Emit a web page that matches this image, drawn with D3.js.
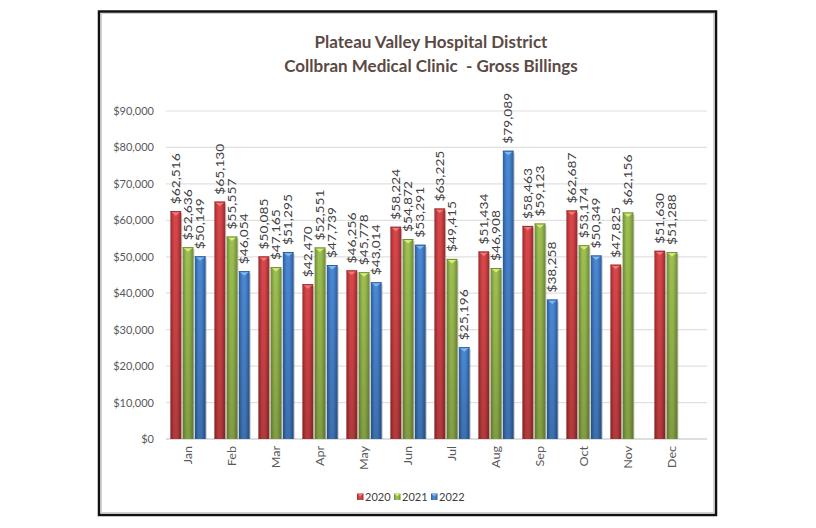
<!DOCTYPE html>
<html><head><meta charset="utf-8">
<script src="https://cdn.jsdelivr.net/npm/d3@7"></script>
<style>body{margin:0;background:#fff}svg{display:block}</style>
</head><body>
<script>
const months = ["Jan","Feb","Mar","Apr","May","Jun","Jul","Aug","Sep","Oct","Nov","Dec"];
const seriesNames = ["2020","2021","2022"];
const v2020 = [62516,65130,50085,42470,46256,58224,63225,51434,58463,62687,47825,51630];
const v2021 = [52636,55557,47165,52551,45778,54872,49415,46908,59123,53174,62156,51288];
const v2022 = [50149,46054,51295,47739,43014,53291,25196,79089,38258,50349,null,null];
const yTicks = [0,10000,20000,30000,40000,50000,60000,70000,80000,90000];
const titleLines = ["Plateau Valley Hospital District","Collbran Medical Clinic  - Gross Billings"];

const W=816,H=528;
const FONT="Lato, 'Open Sans', sans-serif";
const svg=d3.select("body").append("svg").attr("width",W).attr("height",H);
const defs=svg.append("defs");
const pal=[
 {edge:"#9b2a2c",mid:"#d9464a",cap:"#f07a7a"},
 {edge:"#6f8c33",mid:"#9dbf52",cap:"#d4ee7a"},
 {edge:"#2c5c9c",mid:"#4a88d4",cap:"#7fb8f0"}
];
pal.forEach((p,i)=>{
  const g=defs.append("linearGradient").attr("id","g"+i).attr("x1","0").attr("x2","1").attr("y1","0").attr("y2","0");
  g.append("stop").attr("offset","0").attr("stop-color",p.edge);
  g.append("stop").attr("offset","0.35").attr("stop-color",p.mid);
  g.append("stop").attr("offset","0.6").attr("stop-color",p.mid);
  g.append("stop").attr("offset","1").attr("stop-color",p.edge);
  const s=defs.append("linearGradient").attr("id","s"+i).attr("x1","0").attr("x2","0").attr("y1","0").attr("y2","1");
  s.append("stop").attr("offset","0").attr("stop-color","#000").attr("stop-opacity",0);
  s.append("stop").attr("offset","1").attr("stop-color","#000").attr("stop-opacity",0.18);
});

// frame
svg.append("rect").attr("x",99).attr("y",11.5).attr("width",617).attr("height",503.5)
  .attr("fill","#fff").attr("stroke","#111").attr("stroke-width",2.5);
svg.append("rect").attr("x",101.5).attr("y",13.5).attr("width",612).attr("height",499)
  .attr("fill","none").attr("stroke","#d0d0d0").attr("stroke-width",1);

const y=d3.scaleLinear().domain([0,90000]).range([439,111]);
const x=d3.scaleBand().domain(months).range([166,694]).paddingInner(0.2).paddingOuter(0.1);
const xs=d3.scaleBand().domain(seriesNames).range([0,x.bandwidth()]).paddingInner(0.12);

// gridlines
svg.append("g").selectAll("line").data(yTicks).join("line")
  .attr("x1",166).attr("x2",707).attr("y1",d=>y(d)).attr("y2",d=>y(d))
  .attr("stroke",d=>d===0?"#bdbdbd":"#e0e0e0").attr("stroke-width",1.2);

// y axis
const ya=svg.append("g").attr("transform","translate(160,0)")
  .call(d3.axisLeft(y).tickValues(yTicks).tickSize(0).tickPadding(6).tickFormat(d=>"$"+d3.format(",")(d)));
ya.select(".domain").remove();
ya.selectAll("text").attr("font-family",FONT).attr("font-size",11).attr("fill","#595959");

// x axis labels
const xa=svg.append("g").attr("transform","translate(0,439)")
  .call(d3.axisBottom(x).tickSize(0).tickPadding(0));
xa.select(".domain").remove();
xa.selectAll("text").attr("font-family",FONT).attr("font-size",11).attr("fill","#595959")
  .attr("transform","rotate(-90) scale(1.15,1)").attr("text-anchor","end").attr("dy","0.35em").attr("x",-6).attr("y",0);

const series=[v2020,v2021,v2022];
const bars=[];
series.forEach((vals,si)=>vals.forEach((v,mi)=>{ if(v!=null) bars.push({si,mi,v}); }));
const bx=d=>x(months[d.mi])+xs(seriesNames[d.si]);
const bw=xs.bandwidth();
const gb=svg.append("g");
gb.selectAll("rect.shadow").data(bars).join("rect")
  .attr("x",d=>bx(d)+bw-0.5).attr("y",d=>y(d.v)+2).attr("width",1.5).attr("height",d=>439-y(d.v)-2)
  .attr("fill","#9a9a9a").attr("opacity",0.6);
gb.selectAll("rect.bar").data(bars).join("rect")
  .attr("x",bx).attr("y",d=>y(d.v)).attr("width",bw).attr("height",d=>439-y(d.v))
  .attr("fill",d=>"url(#g"+d.si+")");
gb.selectAll("rect.sh").data(bars).join("rect")
  .attr("x",bx).attr("y",d=>y(d.v)).attr("width",bw).attr("height",d=>439-y(d.v))
  .attr("fill",d=>"url(#s"+d.si+")");
gb.selectAll("path.cap").data(bars).join("path")
  .attr("d",d=>{const x0=bx(d),t=y(d.v);return `M${x0},${t}L${x0+bw},${t}L${x0+bw/2},${t+4.5}Z`;})
  .attr("fill",d=>pal[d.si].cap);
gb.selectAll("line.top").data(bars).join("line")
  .attr("x1",bx).attr("x2",d=>bx(d)+bw).attr("y1",d=>y(d.v)+0.5).attr("y2",d=>y(d.v)+0.5)
  .attr("stroke",d=>pal[d.si].edge).attr("stroke-width",1);

// data labels
gb.selectAll("text.lbl").data(bars).join("text")
  .attr("transform",d=>`translate(${bx(d)+bw/2},${y(d.v)-7}) rotate(-90) scale(1.25,1)`)
  .attr("dy","0.35em").attr("text-anchor","start")
  .attr("font-family",FONT).attr("font-size",11).attr("fill","#404040")
  .text(d=>"$"+d3.format(",")(d.v));

// title
svg.append("g").selectAll("text").data(titleLines).join("text")
  .attr("x",431).attr("y",(d,i)=>48+i*24).attr("text-anchor","middle")
  .attr("xml:space","preserve").style("white-space","pre")
  .attr("font-family",FONT).attr("font-weight","bold").attr("font-size",17)
  .attr("fill","#5b4a44").text(d=>d);

// legend
const lg=svg.append("g").attr("transform","translate(357,497)");
const lx=[0,37,74];
seriesNames.forEach((n,i)=>{
  const g=lg.append("g").attr("transform",`translate(${lx[i]},0)`);
  g.append("rect").attr("x",0).attr("y",-3.5).attr("width",6.5).attr("height",6.5).attr("fill","url(#g"+i+")");
  g.append("path").attr("d","M0,-3.5L6.5,-3.5L3.25,-0.5Z").attr("fill",pal[i].cap);
  g.append("text").attr("x",8).attr("y",0).attr("dy","0.35em")
    .attr("font-family",FONT).attr("font-size",11).attr("fill","#404040").text(n);
});
</script>
</body></html>
